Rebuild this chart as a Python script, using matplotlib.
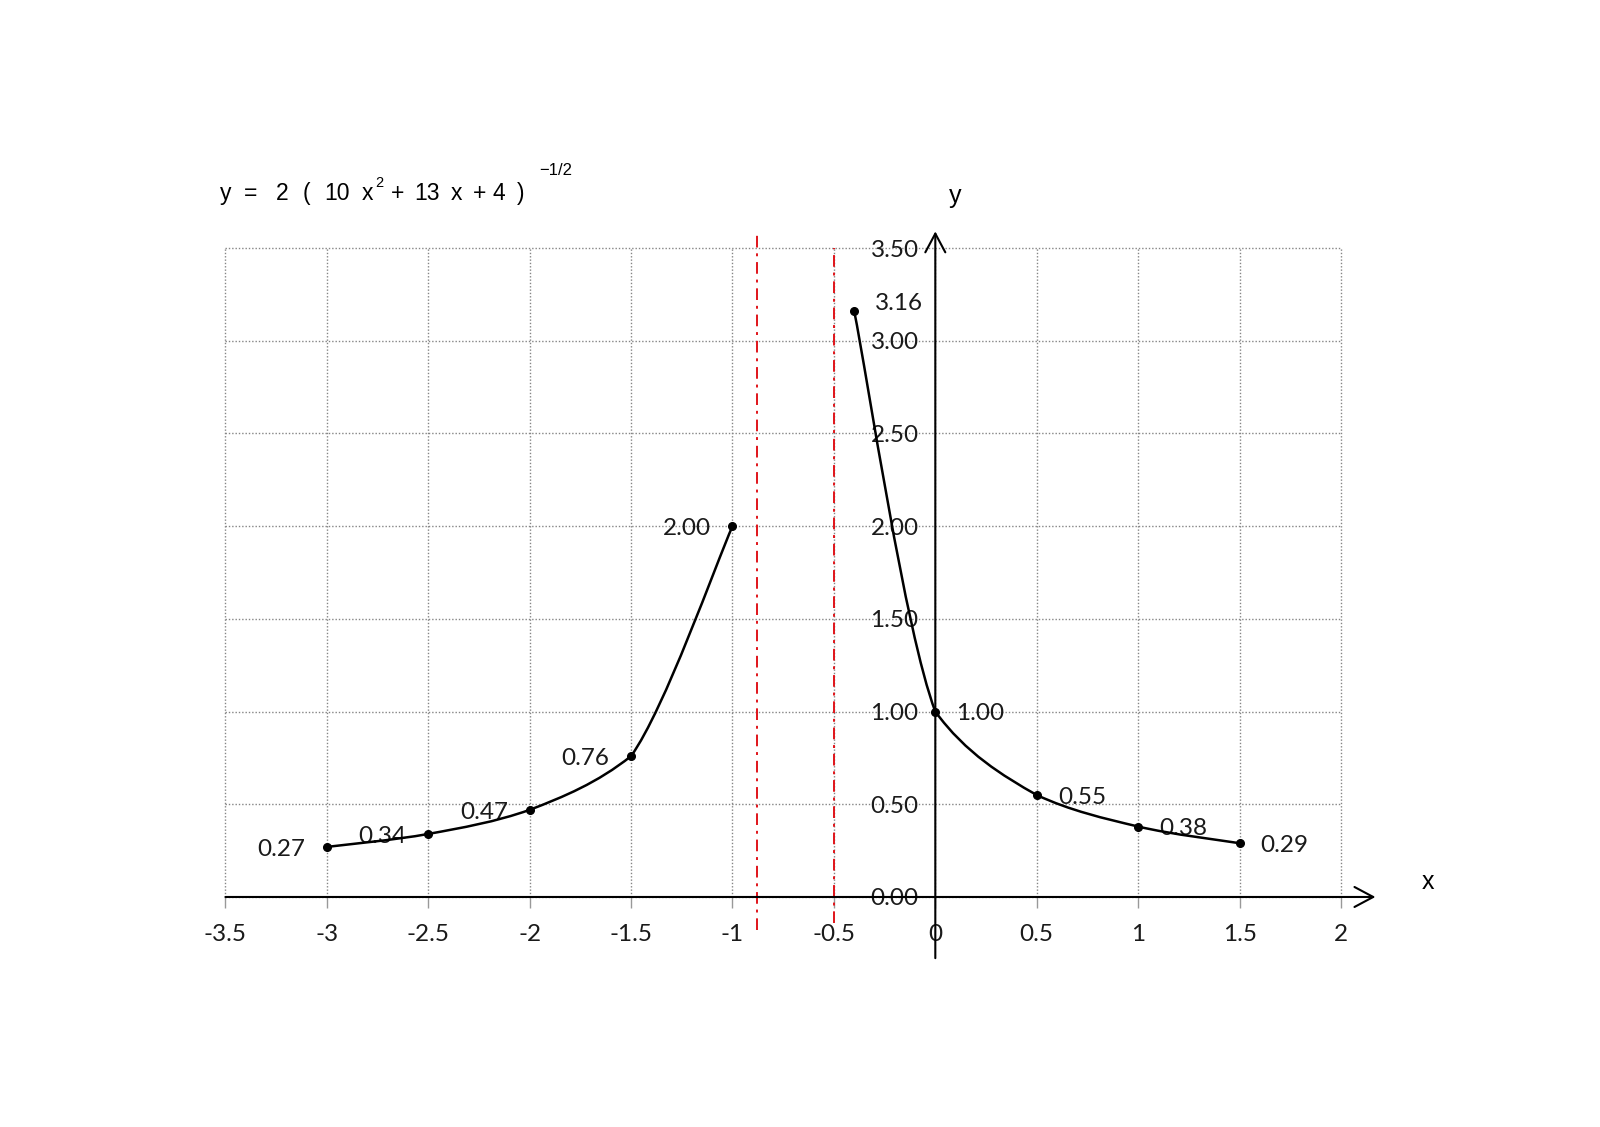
import numpy as np
import matplotlib
matplotlib.use("Agg")
import matplotlib.pyplot as plt
from matplotlib.path import Path
from matplotlib.patches import PathPatch

# data
left_x = [-3, -2.5, -2, -1.5, -1]
left_y = [0.27, 0.34, 0.47, 0.76, 2.00]
right_x = [-0.4, 0, 0.5, 1, 1.5]
right_y = [3.16, 1.00, 0.55, 0.38, 0.29]
asym_x = [-0.88, -0.5]
asym_lo = [-0.18, -0.14]
asym_hi = [3.58, 3.5]
x_ticks = [-3.5, -3, -2.5, -2, -1.5, -1, -0.5, 0, 0.5, 1, 1.5, 2]
x_tick_labels = ["-3.5", "-3", "-2.5", "-2", "-1.5", "-1", "-0.5", "0", "0.5", "1", "1.5", "2"]
y_ticks = [0, 0.5, 1, 1.5, 2, 2.5, 3, 3.5]
y_tick_labels = ["0.00", "0.50", "1.00", "1.50", "2.00", "2.50", "3.00", "3.50"]

# formula pieces and where they sit (px from left)
formula_tokens = ["y", "=", "2", "(", "10", "x", "+", "13", "x", "+", "4", ")"]
formula_px = [226, 251, 282, 306, 337, 367, 398, 427, 456, 480, 499, 521]

num_font = 'Lato'
ink = '#1a1a1a'


def smooth_path(xs, ys):
    # spreadsheet-like smoothed line: catmull-rom arms, y part of each arm
    # held to half of that segment's rise
    p = np.column_stack([xs, ys]).astype(float)
    ext = np.vstack([p[0], p, p[-1]])
    verts = [p[0]]
    codes = [Path.MOVETO]
    for i in range(len(p) - 1):
        p0, p1, p2, p3 = ext[i], ext[i + 1], ext[i + 2], ext[i + 3]
        lim = abs(p2[1] - p1[1]) / 2
        a1 = (p2 - p0) / 6
        a2 = (p3 - p1) / 6
        a1[1] = np.clip(a1[1], -lim, lim)
        a2[1] = np.clip(a2[1], -lim, lim)
        verts += [p1 + a1, p2 - a2, p2]
        codes += [Path.CURVE4] * 3
    return Path(verts, codes)


fig = plt.figure(figsize=(16, 11.27), dpi=100)
ax = fig.add_axes([0.1409, 0.2041, 0.6972, 0.5758])
ax.set_xlim(-3.5, 2)
ax.set_ylim(0, 3.5)
for s in ax.spines.values():
    s.set_visible(False)
ax.spines['left'].set_position(('data', 0))

ax.set_xticks(x_ticks)
ax.set_xticklabels(x_tick_labels, fontname=num_font, fontsize=17.5, color=ink)
ax.set_yticks(y_ticks)
ax.set_yticklabels(y_tick_labels, fontname=num_font, fontsize=17.5, color=ink)
ax.tick_params(axis='x', direction='out', length=8, width=1, color='#999999', pad=11.5)
ax.tick_params(axis='y', length=0, pad=12)

ax.grid(True, linestyle=(0, (1, 1.4)), color='#858585', lw=1.0)
for gl in ax.get_xgridlines() + ax.get_ygridlines():
    gl.set_clip_on(False)

# asymptotes
ax.vlines(asym_x, asym_lo, asym_hi, colors='#e0141a', linestyles=(0, (6, 3, 1.5, 3)),
          lw=1.4, clip_on=False, zorder=3)

# axes with arrows
arrow = dict(arrowstyle='->,head_length=0.75,head_width=0.4', lw=1.5, color='k',
             shrinkA=0, shrinkB=0, mutation_scale=18)
ax.annotate('', xy=(2.17, 0), xytext=(-3.5, 0), arrowprops=arrow, annotation_clip=False)
ax.annotate('', xy=(0, 3.59), xytext=(0, -0.33), arrowprops=arrow, annotation_clip=False)
ax.text(2.43, 0.08, 'x', fontname='Liberation Sans', fontsize=18, ha='center', va='center')
ax.text(0.10, 3.78, 'y', fontname='Liberation Sans', fontsize=18, ha='center', va='center')

# curves
for xs, ys in [(left_x, left_y), (right_x, right_y)]:
    ax.add_patch(PathPatch(smooth_path(xs, ys), facecolor='none', edgecolor='k',
                           lw=1.8, zorder=4, clip_on=False))
    ax.plot(xs, ys, 'o', color='k', ms=5.5, zorder=5, clip_on=False)

for xv, yv in zip(left_x, left_y):
    ax.annotate(f"{yv:.2f}", (xv, yv), xytext=(-33, -2), textcoords='offset points',
                ha='center', va='center', fontname=num_font, fontsize=17.5, color=ink)
for i, (xv, yv) in enumerate(zip(right_x, right_y)):
    dy = 5.5 if i == 0 else -1.5
    ax.annotate(f"{yv:.2f}", (xv, yv), xytext=(32.5, dy), textcoords='offset points',
                ha='center', va='center', fontname=num_font, fontsize=17.5, color=ink)

# formula
base = 1 - 200 / 1127
for tok, px in zip(formula_tokens, formula_px):
    fig.text(px / 1600, base, tok, fontname='Liberation Sans', fontsize=16.5,
             va='baseline', ha='center')
fig.text(379 / 1600, 1 - 187 / 1127, "2", fontname='Liberation Sans', fontsize=10.5,
         va='baseline', ha='center')
fig.text(556 / 1600, 1 - 175 / 1127, "\u22121/2", fontname='Liberation Sans',
         fontsize=12, va='baseline', ha='center')

fig.savefig('out.png', dpi=100)
